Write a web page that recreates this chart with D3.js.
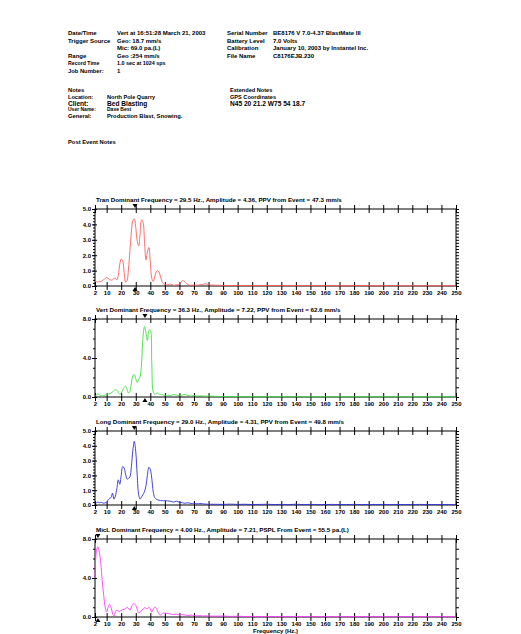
<!DOCTYPE html>
<html>
<head>
<meta charset="utf-8">
<script src="https://cdn.jsdelivr.net/npm/d3@7"></script>
<style>
body { margin:0; background:#fff; }
svg text { font-family: "Liberation Sans Narrow", "Liberation Sans", Arial, sans-serif; font-weight: bold; fill:#000; }
</style>
</head>
<body>
<svg id="page" width="521" height="634"></svg>
<script>
// frequency samples (Hz) shared by all four channels
var freqs = [2,3,4,5,6,7,8,9,10,11,12,13,14,15,16,17,18,19,20,21,22,23,24,25,26,27,28,29,30,31,32,33,34,35,36,37,38,39,40,41,42,43,44,45,46,47,48,49,50,
  52,54,56,58,60,62,64,66,68,70,72,74,76,78,80,
  85,90,95,100,105,110,115,120,125,130,135,140,145,150,155,160,165,170,175,180,185,190,195,200,205,210,215,220,225,230,235,240,245,250];

var tranAmp = [0.30,0.28,0.25,0.30,0.28,0.35,0.40,0.50,0.55,0.50,0.42,0.38,0.40,0.48,0.50,0.40,0.70,1.40,1.75,1.65,0.90,0.25,0.35,1.10,2.30,3.50,4.25,4.36,3.80,2.90,2.60,3.40,4.30,4.15,2.90,1.70,2.20,2.50,1.60,0.50,0.30,0.60,0.90,1.00,0.90,0.60,0.30,0.15,0.10,
  0.08,0.12,0.05,0.08,0.10,0.35,0.25,0.08,0.05,0.06,0.05,0.08,0.10,0.15,0.08,
  0.05,0.04,0.03,0.04,0.03,0.02,0.03,0.02,0.03,0.02,0.03,0.02,0.02,0.03,0.02,0.02,0.03,0.02,0.02,0.02,0.03,0.02,0.02,0.02,0.02,0.03,0.02,0.02,0.02,0.02,0.02,0.02,0.02,0.02];

var vertAmp = [0.10,0.20,0.30,0.25,0.15,0.10,0.15,0.20,0.25,0.30,0.35,0.40,0.50,0.65,0.75,0.70,0.50,0.30,0.40,0.70,1.00,1.10,0.80,0.40,0.60,1.40,2.20,2.30,1.90,1.50,1.80,2.10,3.50,6.20,7.22,6.60,5.80,6.80,6.90,3.50,0.50,0.30,0.35,0.40,0.30,0.25,0.30,0.20,0.15,
  0.20,0.15,0.25,0.20,0.15,0.20,0.25,0.15,0.10,0.15,0.10,0.12,0.10,0.08,0.10,
  0.06,0.05,0.04,0.05,0.04,0.03,0.04,0.03,0.03,0.04,0.03,0.03,0.03,0.03,0.03,0.03,0.03,0.03,0.03,0.03,0.03,0.03,0.03,0.03,0.03,0.03,0.03,0.03,0.03,0.03,0.03,0.03,0.03,0.03];

var longAmp = [0.20,0.15,0.20,0.15,0.18,0.15,0.12,0.15,0.15,0.35,0.45,0.50,0.80,0.40,0.60,1.10,1.70,1.40,2.00,2.60,2.50,2.10,1.75,1.80,1.90,2.60,3.70,4.31,3.60,2.00,0.70,0.40,0.55,0.70,0.90,1.30,2.00,2.55,2.40,1.80,0.90,0.50,0.40,0.35,0.32,0.30,0.30,0.28,0.30,
  0.28,0.25,0.20,0.25,0.18,0.15,0.12,0.15,0.10,0.12,0.08,0.10,0.08,0.06,0.05,
  0.05,0.04,0.06,0.04,0.05,0.03,0.04,0.05,0.03,0.04,0.03,0.05,0.03,0.04,0.03,0.03,0.04,0.03,0.03,0.04,0.03,0.03,0.03,0.04,0.03,0.03,0.03,0.03,0.04,0.03,0.03,0.03,0.03,0.03];

var micAmp = [4.00,6.80,7.21,6.60,5.50,3.60,2.20,1.00,0.50,1.00,1.30,1.00,0.40,0.10,0.50,0.70,0.60,0.55,0.70,0.75,0.80,0.85,1.00,0.90,0.70,1.00,1.30,1.35,1.20,0.80,0.40,0.50,0.70,0.80,0.95,0.90,0.85,1.00,0.80,0.50,0.80,1.00,0.95,0.60,0.30,0.20,0.30,0.40,0.40,
  0.35,0.30,0.25,0.30,0.20,0.25,0.20,0.15,0.20,0.15,0.12,0.15,0.10,0.12,0.10,
  0.08,0.10,0.06,0.08,0.05,0.06,0.05,0.04,0.05,0.04,0.04,0.05,0.04,0.04,0.04,0.04,0.04,0.04,0.04,0.04,0.04,0.04,0.04,0.04,0.04,0.04,0.04,0.04,0.04,0.04,0.04,0.04,0.04,0.04];

var channels = ["Tran","Vert","Long","MicL"];
var domFreq = [29.5, 36.3, 29.0, 4.0];
var yMax = [5, 8, 5, 8];
var titles = [
  "Tran Dominant Frequency = 29.5 Hz., Amplitude = 4.36,  PPV from Event = 47.3 mm/s",
  "Vert Dominant Frequency = 36.3 Hz., Amplitude = 7.22,  PPV from Event = 62.6 mm/s",
  "Long Dominant Frequency = 29.0 Hz., Amplitude = 4.31,  PPV from Event = 49.8 mm/s",
  "MicL Dominant Frequency = 4.00 Hz., Amplitude = 7.21,  PSPL From Event = 55.5 pa.(L)"
];
var xTicks = [2,10,20,30,40,50,60,70,80,90,100,110,120,130,140,150,160,170,180,190,200,210,220,230,240,250];

var headLeft = [["Date/Time","Vert at 16:51:28 March 21, 2003"],["Trigger Source","Geo: 18.7 mm/s"],["","Mic: 69.0 pa.(L)"],
  ["Range","Geo :254 mm/s"],["Record Time","1.0 sec at 1024 sps"],["Job Number:","1"]];
var headRight = [["Serial Number","BE8176 V 7.0-4.37 BlastMate III"],["Battery Level","7.0 Volts"],
  ["Calibration","January 10, 2003 by Instantel Inc."],["File Name","C8176EJB.230"]];
var notesLeft = [["Notes",""],["Location:","North Pole Quarry"],["Client:","Bed Blasting"],["User Name:","Dave Best"],["General:","Production Blast, Snowing."]];
var notesRight = ["Extended Notes","GPS Coordinates","N45 20 21.2 W75 54 18.7"];

var svg = d3.select("#page");
var colors = ["#ff5c5c","#3ee03e","#2f2fd6","#ff3cff"];
var panelTop = [209, 319, 431, 539];
var panelBot = [286, 397, 505, 617];

// header
var lh = [33,41,48,56,63,71];
var hsz = [6,6,6,6,5.2,5.8];
headLeft.forEach(function(r,i){
  svg.append("text").attr("x",68).attr("y",lh[i]+2).attr("font-size",hsz[i]).text(r[0]);
  svg.append("text").attr("x",117).attr("y",lh[i]+2).attr("font-size",i==4?5.4:6).text(r[1]);
});
headRight.forEach(function(r,i){
  svg.append("text").attr("x",227).attr("y",lh[i]+2).attr("font-size",6).text(r[0]);
  svg.append("text").attr("x",273).attr("y",lh[i]+2).attr("font-size",6).text(r[1]);
});
var ny = [92,98.8,105.6,111.4,118];
var nsz = [5.8,5.6,6.6,5,5.8];
notesLeft.forEach(function(r,i){
  svg.append("text").attr("x",68).attr("y",ny[i]).attr("font-size",nsz[i]).text(r[0]);
  svg.append("text").attr("x",107).attr("y",ny[i]).attr("font-size",nsz[i]).text(r[1]);
});
notesRight.forEach(function(t,i){
  svg.append("text").attr("x",230).attr("y",ny[i]).attr("font-size",i==2?6.6:5.6).text(t);
});
svg.append("text").attr("x",68).attr("y",144).attr("font-size",5.8).text("Post Event Notes");

var x = d3.scaleLinear().domain([2,250]).range([95,456]);
var amps = [tranAmp, vertAmp, longAmp, micAmp];

channels.forEach(function(ch,i){
  var top = panelTop[i], bot = panelBot[i];
  var y = d3.scaleLinear().domain([0,yMax[i]]).range([bot,top]);
  var major = yMax[i]==5 ? [0,1,2,3,4,5] : [0,4,8];
  var minor = yMax[i]==5 ? d3.range(0,5.01,0.2) : d3.range(0,8.01,1);
  var g = svg.append("g");

  g.append("text").attr("x",96).attr("y",top-7).attr("font-size",6.2).text(titles[i]);

  g.append("rect").attr("x",x(2)).attr("y",top).attr("width",x(250)-x(2)).attr("height",bot-top)
    .attr("fill","none").attr("stroke","#000").attr("stroke-width",1);

  var gb = g.append("g").attr("transform","translate(0,"+bot+")")
    .call(d3.axisBottom(x).tickValues(xTicks).tickSize(4).tickPadding(0.5).tickFormat(d3.format("d")));
  var gt = g.append("g").attr("transform","translate(0,"+top+")")
    .call(d3.axisTop(x).tickValues(xTicks).tickSize(4).tickFormat(""));
  gb.selectAll(".tick line").attr("y1",-4);
  gt.selectAll(".tick line").attr("y1",4);

  var gl = g.append("g").attr("transform","translate("+x(2)+",0)")
    .call(d3.axisLeft(y).tickValues(major).tickSize(3).tickPadding(1).tickFormat(d3.format(".1f")));
  gl.selectAll(".tick line").attr("x1",2);
  var glm = g.append("g").attr("transform","translate("+x(2)+",0)")
    .call(d3.axisLeft(y).tickValues(minor).tickSize(2).tickFormat(""));
  var gr = g.append("g").attr("transform","translate("+x(250)+",0)")
    .call(d3.axisRight(y).tickValues(minor).tickSize(3).tickFormat(""));

  [gb,gt,gl,glm,gr].forEach(function(a){
    a.select(".domain").remove();
    a.selectAll(".tick line").attr("stroke","#000").attr("stroke-width",1);
    a.selectAll("text").attr("font-size",6).attr("font-family",null);
  });

  var line = d3.line().x(function(d,k){return x(freqs[k]);}).y(function(d){return y(d);}).curve(d3.curveCatmullRom);
  g.append("path").datum(amps[i]).attr("d",line).attr("fill","none")
    .attr("stroke",colors[i]).attr("stroke-width",0.9);

  var xf = x(domFreq[i]);
  g.append("path").attr("d","M"+(xf-2.5)+","+(top-5)+"L"+(xf+2.5)+","+(top-5)+"L"+xf+","+(top-1)+"Z").attr("fill","#000");
  g.append("path").attr("d","M"+(xf-2.5)+","+(bot+5)+"L"+(xf+2.5)+","+(bot+5)+"L"+xf+","+(bot+1)+"Z").attr("fill","#000");
});

svg.append("text").attr("x",(x(2)+x(250))/2).attr("y",633).attr("text-anchor","middle")
  .attr("font-size",6).text("Frequency (Hz.)");
</script>
</body>
</html>
